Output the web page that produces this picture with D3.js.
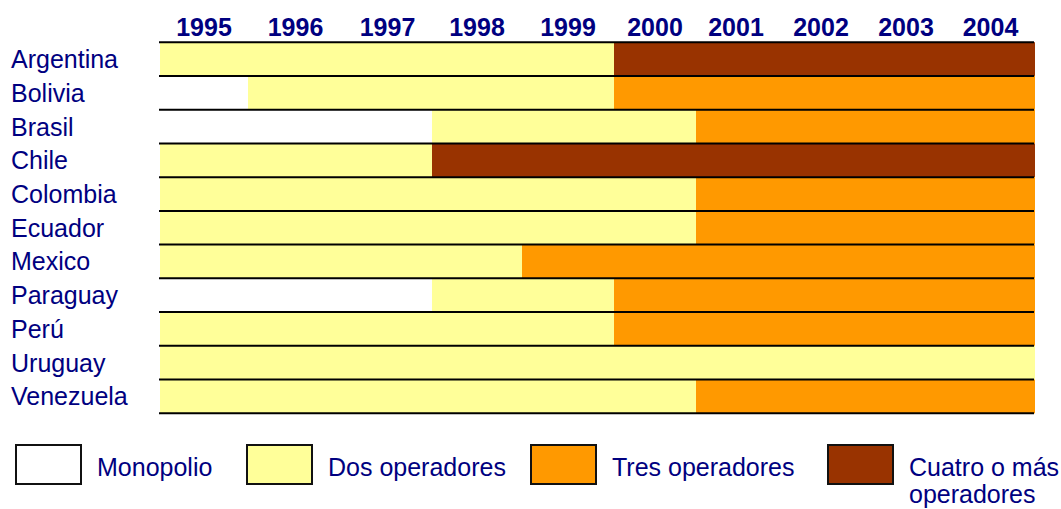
<!DOCTYPE html>
<html>
<head>
<meta charset="utf-8">
<script src="https://cdnjs.cloudflare.com/ajax/libs/d3/7.8.5/d3.min.js"></script>
<style>
  body { margin: 0; background: #fff; }
  text { font-family: "Liberation Sans", Arial, sans-serif; fill: #000080; }
</style>
</head>
<body>
<div id="chart"></div>
<script>
// data
const years = [1995, 1996, 1997, 1998, 1999, 2000, 2001, 2002, 2003, 2004];
const countries = ["Argentina", "Bolivia", "Brasil", "Chile", "Colombia", "Ecuador",
                   "Mexico", "Paraguay", "Perú", "Uruguay", "Venezuela"];
const levels = ["Monopolio", "Dos operadores", "Tres operadores", "Cuatro o más operadores"];
// number of operators per year: 0 = monopolio, 1 = dos, 2 = tres, 3 = cuatro o más
const operatorsByYear = [
  [1, 1, 1, 1, 1, 3, 3, 3, 3, 3], // Argentina
  [0, 1, 1, 1, 1, 2, 2, 2, 2, 2], // Bolivia
  [0, 0, 0, 1, 1, 1, 2, 2, 2, 2], // Brasil
  [1, 1, 1, 3, 3, 3, 3, 3, 3, 3], // Chile
  [1, 1, 1, 1, 1, 1, 2, 2, 2, 2], // Colombia
  [1, 1, 1, 1, 1, 1, 2, 2, 2, 2], // Ecuador
  [1, 1, 1, 1, 2, 2, 2, 2, 2, 2], // Mexico
  [0, 0, 0, 1, 1, 2, 2, 2, 2, 2], // Paraguay
  [1, 1, 1, 1, 1, 2, 2, 2, 2, 2], // Perú
  [1, 1, 1, 1, 1, 1, 1, 1, 1, 1], // Uruguay
  [1, 1, 1, 1, 1, 1, 2, 2, 2, 2]  // Venezuela
];

const colors = ["#FFFFFF", "#FFFF99", "#FF9900", "#993300"];

const width = 1061, height = 509;
// spreadsheet-like column edges (years are not equally wide in the original)
const colEdges = [160, 248, 343, 432, 522, 614, 696, 776, 866, 946, 1035];

const svg = d3.select("#chart").append("svg")
  .attr("width", width)
  .attr("height", height);

const x = d3.scaleLinear()
  .domain(d3.range(years[0], years[years.length - 1] + 2))
  .range(colEdges);

const y = d3.scaleBand()
  .domain(countries)
  .range([42.2, 413.3]);

// turn yearly status into runs so adjacent years merge into one bar
const segments = [];
countries.forEach((c, i) => {
  const row = operatorsByYear[i];
  let start = 0;
  for (let j = 1; j <= row.length; j++) {
    if (j === row.length || row[j] !== row[start]) {
      segments.push({ country: c, level: row[start], from: years[start], to: years[j - 1] + 1 });
      start = j;
    }
  }
});

svg.append("g").selectAll("rect")
  .data(segments)
  .join("rect")
  .attr("x", d => x(d.from))
  .attr("y", d => y(d.country))
  .attr("width", d => x(d.to) - x(d.from))
  .attr("height", y.bandwidth())
  .attr("fill", d => colors[d.level]);

// horizontal row separators
const lineYs = countries.map(c => y(c)).concat([y.range()[1]]);
svg.append("g").selectAll("line")
  .data(lineYs)
  .join("line")
  .attr("x1", x.range()[0] - 1)
  .attr("x2", x.range()[x.range().length - 1] - 1)
  .attr("y1", d => d)
  .attr("y2", d => d)
  .attr("stroke", "#000")
  .attr("stroke-width", 2);

// year labels
svg.append("g").selectAll("text")
  .data(years)
  .join("text")
  .attr("x", d => (x(d) + x(d + 1)) / 2)
  .attr("y", 36)
  .attr("text-anchor", "middle")
  .style("font-size", "25px")
  .style("font-weight", "bold")
  .text(d => d);

// country labels
svg.append("g").selectAll("text")
  .data(countries)
  .join("text")
  .attr("x", 11)
  .attr("y", d => y(d) + y.bandwidth() / 2 + 9)
  .style("font-size", "25px")
  .text(d => d);

// legend
const legendX = [16, 247, 531, 828];
const legend = svg.append("g").selectAll("g")
  .data(levels)
  .join("g")
  .attr("transform", (d, i) => `translate(${legendX[i]}, 445)`);

legend.append("rect")
  .attr("width", 65)
  .attr("height", 39)
  .attr("fill", (d, i) => colors[i])
  .attr("stroke", "#111")
  .attr("stroke-width", 2);

legend.append("text")
  .attr("x", 81)
  .attr("y", 31)
  .style("font-size", "25px")
  .each(function (d) {
    const t = d3.select(this);
    const lines = d === "Cuatro o más operadores" ? ["Cuatro o más", "operadores"] : [d];
    lines.forEach((ln, k) => {
      t.append("tspan").attr("x", 81).attr("dy", k === 0 ? 0 : 27).text(ln);
    });
  });
</script>
</body>
</html>
